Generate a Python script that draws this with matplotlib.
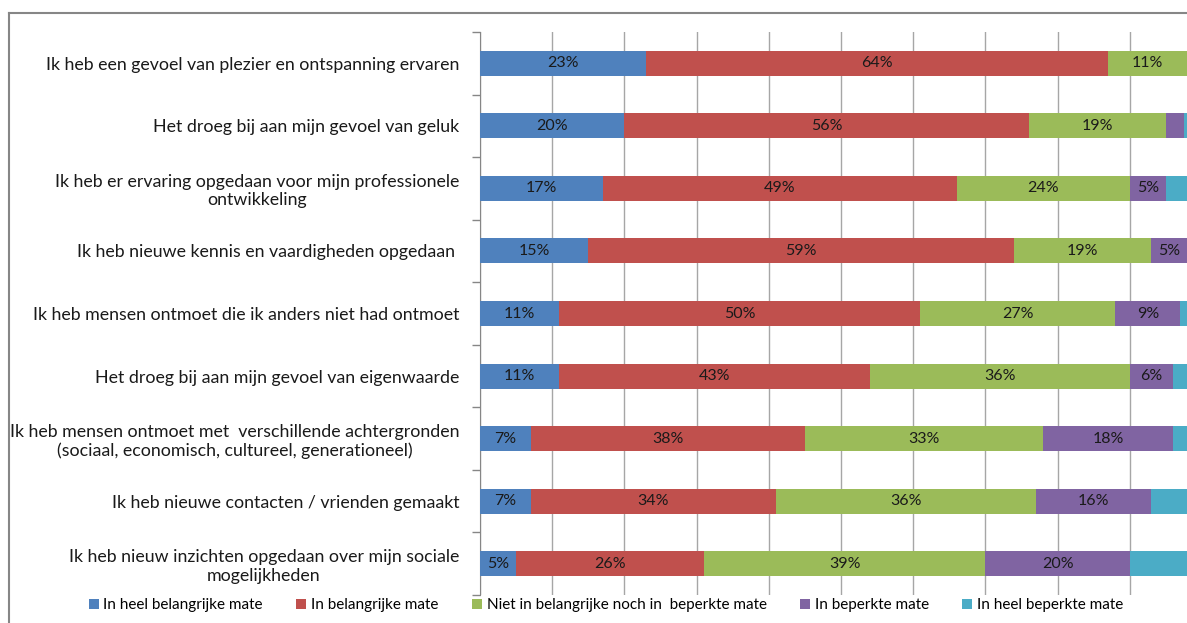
import matplotlib
matplotlib.use("Agg")
import matplotlib.pyplot as plt
from matplotlib.lines import Line2D
import numpy as np

plt.rcParams['font.family'] = ['Lato', 'DejaVu Sans']

# categorieen, van boven naar beneden
categorieen = [
    "Ik heb een gevoel van plezier en ontspanning ervaren",
    "Het droeg bij aan mijn gevoel van geluk",
    "Ik heb er ervaring opgedaan voor mijn professionele\nontwikkeling",
    "Ik heb nieuwe kennis en vaardigheden opgedaan ",
    "Ik heb mensen ontmoet die ik anders niet had ontmoet",
    "Het droeg bij aan mijn gevoel van eigenwaarde",
    "Ik heb mensen ontmoet met  verschillende achtergronden\n(sociaal, economisch, cultureel, generationeel)",
    "Ik heb nieuwe contacten / vrienden gemaakt",
    "Ik heb nieuw inzichten opgedaan over mijn sociale\nmogelijkheden",
]

series = [
    "In heel belangrijke mate",
    "In belangrijke mate",
    "Niet in belangrijke noch in  beperkte mate",
    "In beperkte mate",
    "In heel beperkte mate",
]

heel_belangrijk = [23, 20, 17, 15, 11, 11, 7, 7, 5]
belangrijk = [64, 56, 49, 59, 50, 43, 38, 34, 26]
neutraal = [11, 19, 24, 19, 27, 36, 33, 36, 39]
beperkt = [1, 2.5, 5, 5, 9, 6, 18, 16, 20]
heel_beperkt = [1, 2.5, 4, 2, 3, 4, 4, 7, 10]

kleuren = ["#4F81BD", "#C0504D", "#9BBB59", "#8064A2", "#4BACC6"]

waarden = [heel_belangrijk, belangrijk, neutraal, beperkt, heel_beperkt]

fig = plt.figure(figsize=(11.87, 6.23), dpi=100)
ax = fig.add_axes([480 / 1187, 28 / 623, 722 / 1187, 563 / 623])

y = np.arange(len(categorieen))
links = np.zeros(len(categorieen))
for i, (naam, vals, kleur) in enumerate(zip(series, waarden, kleuren)):
    vals = np.array(vals, dtype=float)
    ax.barh(y, vals, left=links, height=0.4, color=kleur, label=naam, zorder=3)
    # labels alleen voor de eerste vier reeksen, vanaf 5%
    if i < 4:
        for yy, l, v in zip(y, links, vals):
            if v >= 5:
                ax.text(l + v / 2, yy, "%d%%" % round(v), ha="center", va="center",
                        fontsize=11.5, color="#1a1a1a", zorder=4)
    links += vals

ax.set_xlim(0, 100)
ax.set_ylim(len(categorieen) - 0.5, -0.5)
ax.set_xticks(np.arange(0, 101, 10))
ax.xaxis.grid(True, color="#a6a6a6", linewidth=1, zorder=0)
ax.tick_params(axis="x", length=0, labelbottom=False)

ax.set_yticks(y)
ax.set_yticklabels(categorieen, fontsize=12.8, color="#1a1a1a", multialignment="center")
ax.set_yticks(np.arange(-0.5, len(categorieen)), minor=True)
ax.tick_params(axis="y", which="major", length=0, pad=15)
ax.tick_params(axis="y", which="minor", length=6, color="#868686", width=1)

for s in ["top", "right", "bottom"]:
    ax.spines[s].set_visible(False)
ax.spines["left"].set_color("#868686")

# rand van de grafiek
fig.add_artist(Line2D([9 / 1187, 1], [1 - 13 / 623, 1 - 13 / 623], color="#868686", lw=1.5))
fig.add_artist(Line2D([9 / 1187, 9 / 1187], [0, 1 - 13 / 623], color="#868686", lw=1.5))

fig.legend(loc="center", bbox_to_anchor=(606 / 1187, 1 - 605 / 623), ncol=5,
           frameon=False, fontsize=11, handlelength=0.65, handleheight=0.65,
           handletextpad=0.3, columnspacing=2.2)

fig.savefig("out.png", dpi=100)
